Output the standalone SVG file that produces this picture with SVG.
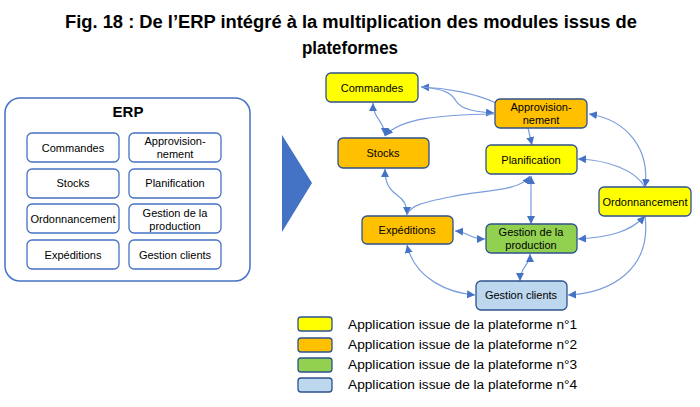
<svg xmlns="http://www.w3.org/2000/svg" width="700" height="407" viewBox="0 0 700 407">
<defs>
<marker id="ah" markerUnits="userSpaceOnUse" markerWidth="9" markerHeight="9" refX="8" refY="4" orient="auto-start-reverse">
<path d="M0,0 L8,4 L0,8 z" fill="#4472C4"/>
</marker>
</defs>
<style>
.title{font-family:"Liberation Sans Narrow","Liberation Sans",Arial,sans-serif;font-weight:bold;font-size:18px;fill:#000;text-anchor:middle}
.t{font-family:"Liberation Sans",Arial,sans-serif;font-size:11px;fill:#000;text-anchor:middle}
.lg{font-family:"Liberation Sans",Arial,sans-serif;font-size:13.7px;fill:#000}
.erpbox{fill:#fff;stroke:#4472C4;stroke-width:1.5}
.ebox{fill:#fff;stroke:#4472C4;stroke-width:1.3}
.n{stroke:#2F528F;stroke-width:1.3}
.y{fill:#FFFF00}.o{fill:#FFC000}.g{fill:#92D050}.b{fill:#BDD7EE}
.c{fill:none;stroke:#7A9DDB;stroke-width:1.2}
</style>
<text class="title" x="351" y="28" textLength="572" lengthAdjust="spacingAndGlyphs">Fig. 18 : De l’ERP intégré à la multiplication des modules issus de</text>
<text class="title" x="350" y="54" textLength="96" lengthAdjust="spacingAndGlyphs">plateformes</text>

<g id="erp">
<rect class="erpbox" x="5" y="98" width="245" height="183" rx="15"/>
<text x="128" y="117" style="font-family:'Liberation Sans',Arial,sans-serif;font-weight:bold;font-size:15px;text-anchor:middle">ERP</text>
<rect class="ebox" x="27" y="133" width="92" height="29" rx="5"/>
<text class="t" x="73" y="152">Commandes</text>
<rect class="ebox" x="129" y="133" width="92" height="29" rx="5"/>
<text class="t" x="175" y="145">Approvision-</text>
<text class="t" x="175" y="158">nement</text>
<rect class="ebox" x="27" y="169" width="92" height="29" rx="5"/>
<text class="t" x="73" y="187">Stocks</text>
<rect class="ebox" x="129" y="169" width="92" height="29" rx="5"/>
<text class="t" x="175" y="187">Planification</text>
<rect class="ebox" x="27" y="204" width="92" height="29" rx="5"/>
<text class="t" x="73" y="223">Ordonnancement</text>
<rect class="ebox" x="129" y="204" width="92" height="29" rx="5"/>
<text class="t" x="175" y="217">Gestion de la</text>
<text class="t" x="175" y="230">production</text>
<rect class="ebox" x="27" y="240" width="92" height="29" rx="5"/>
<text class="t" x="73" y="259">Expéditions</text>
<rect class="ebox" x="129" y="240" width="92" height="29" rx="5"/>
<text class="t" x="175" y="259">Gestion clients</text>
</g>

<g id="arrow-big">
<polygon points="282,135 312,183 282,232" fill="#4472C4"/>
</g>

<g id="connectors">
<path class="c" d="M496,103 C475,93 445,88 421,87" marker-end="url(#ah)"/>
<path class="c" d="M421,87 C446,89 452,94 456,101 C461,110 478,112 494,113" marker-end="url(#ah)"/>
<path class="c" d="M494,114 C440,115 400,118 385,136" marker-end="url(#ah)"/>
<path class="c" d="M373,103 C373,119 385,121 385,136" marker-start="url(#ah)" marker-end="url(#ah)"/>
<path class="c" d="M528,128 L532,145" marker-end="url(#ah)"/>
<path class="c" d="M589,114 C628,120 650,150 645,187" marker-start="url(#ah)" marker-end="url(#ah)"/>
<path class="c" d="M578,159 C608,160 635,170 645,187" marker-start="url(#ah)"/>
<path class="c" d="M385,169 C385,184 390,190 397,195 C404,200 407,205 407,215" marker-start="url(#ah)" marker-end="url(#ah)"/>
<path class="c" d="M530,176 C520,192 480,190 450,197 C425,202 410,205 407,215" marker-start="url(#ah)"/>
<path class="c" d="M531,176 L531,224" marker-start="url(#ah)" marker-end="url(#ah)"/>
<path class="c" d="M455,231 C470,232 468,239 485,239" marker-start="url(#ah)" marker-end="url(#ah)"/>
<path class="c" d="M645,216 C630,232 610,237 578,239" marker-start="url(#ah)" marker-end="url(#ah)"/>
<path class="c" d="M645,216 C652,270 610,293 568,295" marker-end="url(#ah)"/>
<path class="c" d="M407,245 C415,280 450,293 475,295" marker-start="url(#ah)" marker-end="url(#ah)"/>
<path class="c" d="M530,254 C530,266 520,266 520,281" marker-start="url(#ah)" marker-end="url(#ah)"/>
</g>

<g id="n-commandes"><rect class="n y" x="326" y="73" width="92" height="29" rx="5"/><text class="t" x="372" y="92">Commandes</text></g>
<g id="n-approv"><rect class="n o" x="495" y="99" width="92" height="29" rx="5"/><text class="t" x="541" y="111">Approvision-</text><text class="t" x="541" y="124">nement</text></g>
<g id="n-stocks"><rect class="n o" x="338" y="138" width="91" height="30" rx="5"/><text class="t" x="383" y="157">Stocks</text></g>
<g id="n-planif"><rect class="n y" x="486" y="145" width="91" height="29" rx="5"/><text class="t" x="531" y="164">Planification</text></g>
<g id="n-ordo"><rect class="n y" x="599" y="187" width="92" height="29" rx="5"/><text class="t" x="645" y="206">Ordonnancement</text></g>
<g id="n-exped"><rect class="n o" x="362" y="216" width="91" height="28" rx="5"/><text class="t" x="407" y="234">Expéditions</text></g>
<g id="n-gprod"><rect class="n g" x="486" y="224" width="91" height="29" rx="5"/><text class="t" x="531" y="236">Gestion de la</text><text class="t" x="531" y="249">production</text></g>
<g id="n-gclients"><rect class="n b" x="476" y="281" width="91" height="29" rx="5"/><text class="t" x="521" y="299">Gestion clients</text></g>

<g id="legend">
<rect class="n y" x="298" y="317" width="34" height="14" rx="3"/>
<text class="lg" x="348" y="329">Application issue de la plateforme n°1</text>
<rect class="n o" x="298" y="338" width="34" height="14" rx="3"/>
<text class="lg" x="348" y="349">Application issue de la plateforme n°2</text>
<rect class="n g" x="298" y="358" width="34" height="14" rx="3"/>
<text class="lg" x="348" y="369">Application issue de la plateforme n°3</text>
<rect class="n b" x="298" y="378" width="34" height="14" rx="3"/>
<text class="lg" x="348" y="389">Application issue de la plateforme n°4</text>
</g>
</svg>
